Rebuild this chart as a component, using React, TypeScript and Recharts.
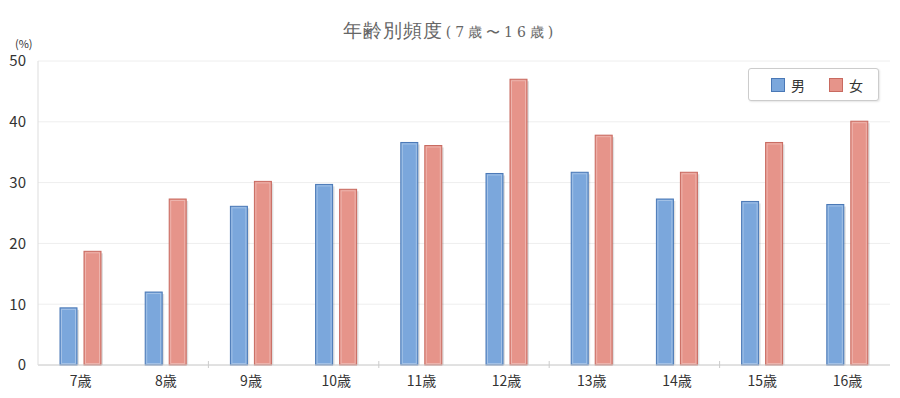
import React from 'react';
import { BarChart, Bar, XAxis, YAxis, CartesianGrid } from 'recharts';

const ages = ['7歳', '8歳', '9歳', '10歳', '11歳', '12歳', '13歳', '14歳', '15歳', '16歳'];
const male = [9.4, 12.0, 26.1, 29.7, 36.6, 31.5, 31.7, 27.3, 26.9, 26.4];
const female = [18.7, 27.3, 30.2, 28.9, 36.1, 47.0, 37.8, 31.7, 36.6, 40.1];
const yTicks = [0, 10, 20, 30, 40, 50];

const data = ages.map((age, i) => ({ age, male: male[i], female: female[i] }));

const SANS = '"Noto Sans CJK JP", "Noto Sans", sans-serif';

function makeShape(fill: string, stroke: string) {
  return (props: any) => {
    const { x, y, width, height } = props;
    if (!height || height <= 0) return <g />;
    return (
      <g>
        <rect x={x + 2} y={y + 2} width={width} height={height - 2} fill="rgba(0,0,0,0.12)" />
        <rect x={x} y={y} width={width} height={height} fill={fill} stroke={stroke} strokeWidth={1} />
        <rect x={x + 1.5} y={y + 1.5} width={width - 3} height={Math.max(0, height - 3)} fill="none" stroke="rgba(255,255,255,0.3)" strokeWidth={1} />
      </g>
    );
  };
}

const XTick = (props: any) => {
  const { x, y, payload, index } = props;
  const band = 85.2;
  return (
    <g>
      {index % 2 === 0 && index > 0 ? (
        <line x1={x - band / 2} x2={x - band / 2} y1={y - 5} y2={y - 12} stroke="#ccc" />
      ) : null}
      <text x={x} y={y + 13} textAnchor="middle" fontSize={14} fill="#333" fontFamily={SANS}>
        {payload.value}
      </text>
    </g>
  );
};

export default function App() {
  return (
    <div style={{ position: 'absolute', left: 0, top: 0, width: 900, height: 398, background: '#fff' }}>
      <div
        style={{
          position: 'absolute', left: 0, top: 18, width: 900, textAlign: 'center',
          color: '#666', fontFamily: '"DejaVu Serif", "Liberation Serif", serif', whiteSpace: 'nowrap',
        }}
      >
        <span style={{ fontSize: 19, letterSpacing: 1 }}>年齢別頻度</span>
        <span style={{ fontSize: 14, letterSpacing: 4, marginLeft: 3 }}>(7歳〜16歳)</span>
      </div>
      <div style={{ position: 'absolute', left: 15, top: 35, fontSize: 11, color: '#333', fontFamily: SANS }}>(%)</div>
      <BarChart
        width={900}
        height={398}
        data={data}
        margin={{ top: 61, right: 10, bottom: 0, left: 1 }}
        barSize={17}
        barGap={7}
      >
        <CartesianGrid vertical={false} stroke="#eee" />
        <XAxis
          dataKey="age"
          height={33}
          axisLine={{ stroke: '#ccc' }}
          tickLine={false}
          tick={<XTick />}
          interval={0}
        />
        <YAxis
          width={37}
          domain={[0, 50]}
          ticks={yTicks}
          axisLine={{ stroke: '#ddd' }}
          tickLine={false}
          tick={{ fontSize: 15, fill: '#333', fontFamily: SANS }}
          tickMargin={6}
        />
        <Bar dataKey="male" isAnimationActive={false} shape={makeShape('#7ba7dc', '#4a78b6')} />
        <Bar dataKey="female" isAnimationActive={false} shape={makeShape('#e6948a', '#c86a60')} />
      </BarChart>
      <div
        style={{
          position: 'absolute', left: 748, top: 68, width: 131, height: 33, boxSizing: 'border-box',
          border: '1px solid #ccc', borderRadius: 3, boxShadow: '1px 1px 2px rgba(0,0,0,0.1)', background: '#fff',
          fontFamily: SANS, fontSize: 14, color: '#333',
        }}
      >
        <div style={{ position: 'absolute', left: 22, top: 9, width: 12, height: 12, background: '#7ba7dc', border: '1px solid #4a78b6' }} />
        <div style={{ position: 'absolute', left: 42, top: 6 }}>男</div>
        <div style={{ position: 'absolute', left: 80, top: 9, width: 12, height: 12, background: '#e6948a', border: '1px solid #c86a60' }} />
        <div style={{ position: 'absolute', left: 100, top: 6 }}>女</div>
      </div>
    </div>
  );
}
